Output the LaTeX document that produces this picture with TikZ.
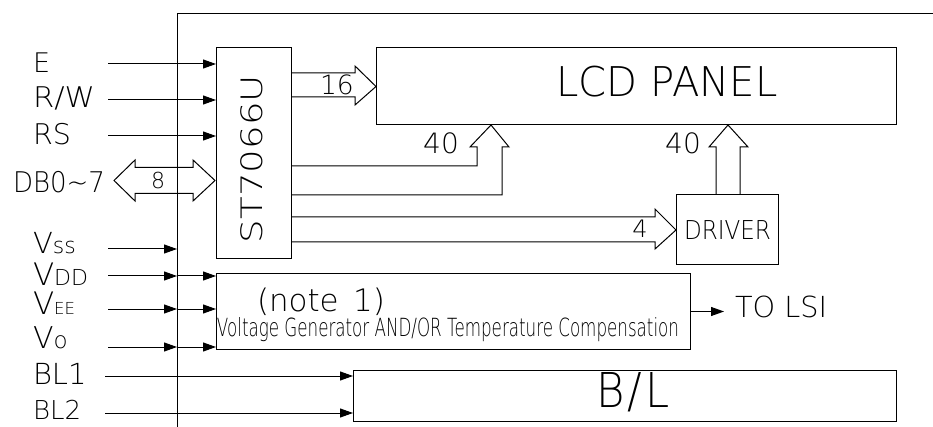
\documentclass[tikz,border=0pt]{standalone}
\usepackage{fontspec}
\usepackage{graphicx}
\usetikzlibrary{arrows.meta,calc}
\newfontfamily\cad{DejaVuSans-ExtraLight}[Extension=.ttf]
\newcommand\fsz[1]{\fontsize{#1}{#1}\selectfont}
\tikzset{
  box/.style={draw, inner sep=0pt, outer sep=0pt},
  sig/.style={-{Triangle[length=13pt,width=9pt]}},
  bus/.style={line join=miter},
  lbl/.style={inner sep=0pt, outer sep=0pt, font=\cad},
}
\begin{document}
\begin{tikzpicture}[x=1pt,y=-1pt,line width=1pt]
\useasboundingbox (0,0) rectangle (933,427);
\fill[white] (0,0) rectangle (933,427);
% frame
\coordinate (fb) at (177,430);
\coordinate (ft) at (177,14);
\coordinate (fr) at (935,14);
\draw (fb) -- (ft) -- (fr);
% boxes
\node[box, minimum width=75pt, minimum height=211pt] (st) at (253.5,153.5) {};
\node[box, minimum width=520pt, minimum height=77pt] (lcd) at (636,86.5) {};
\node[box, minimum width=102pt, minimum height=70pt] (drv) at (727,230) {};
\node[box, minimum width=474pt, minimum height=75pt] (volt) at (453,311.5) {};
\node[box, minimum width=543pt, minimum height=51pt] (bl) at (624.5,395.5) {};
% box texts
\node[lbl, anchor=base, rotate=90] (tST) at (262,159) {\resizebox{168pt}{\height}{\fsz{29.5}ST7066U}};
\node[lbl, anchor=base] (tLCD) at (667,97) {\resizebox{221pt}{\height}{\fsz{41}LCD PANEL}};
\node[lbl, anchor=base] (tDRV) at (727.5,240) {\resizebox{87pt}{\height}{\fsz{26}DRIVER}};
\node[lbl, anchor=base] (tNote) at (321,311) {\resizebox{128pt}{\height}{\fsz{31}(note\hspace{0.15em} 1)}};
\node[lbl, anchor=base] (tVolt) at (448,336) {\resizebox{462pt}{\height}{\fsz{25}Voltage Generator AND/OR Temperature Compensation}};
\node[lbl, anchor=base] (tBL) at (633,407) {\resizebox{74pt}{\height}{\fsz{48}B\hspace{0.08em}/\hspace{0.08em}L}};
% input labels
\node[lbl, anchor=base west] (lE) at (33,73) {\fsz{27}E};
\node[lbl, anchor=base west] (lRW) at (33,108) {\resizebox{62pt}{\height}{\fsz{28.5}R/W}};
\node[lbl, anchor=base west] (lRS) at (33,145) {\fsz{28.5}RS};
\node[lbl, anchor=base west] (lDB) at (13,193) {\resizebox{92pt}{\height}{\fsz{28.5}DB0\char"7E 7}};
\node[lbl, anchor=base west] (lVss) at (33,254) {\fsz{29}V\fsz{22}ss};
\node[lbl, anchor=base west] (lVdd) at (33,286) {\fsz{31}V\fsz{22}DD};
\node[lbl, anchor=base west] (lVee) at (33,314) {\fsz{31}V\fsz{16.5}EE};
\node[lbl, anchor=base west] (lVo) at (33,348) {\fsz{30}V\fsz{23}o};
\node[lbl, anchor=base west] (lBL1) at (33,384) {\fsz{29}BL1};
\node[lbl, anchor=base west] (lBL2) at (33,419) {\fsz{26}BL2};
% input signals
\coordinate (inE) at (108,64);
\coordinate (inRW) at (108,100);
\coordinate (inRS) at (108,136);
\draw[sig] (inE) -- (inE -| st.west);
\draw[sig] (inRW) -- (inRW -| st.west);
\draw[sig] (inRS) -- (inRS -| st.west);
\coordinate (inVss) at (108,249);
\coordinate (inVdd) at (108,276);
\coordinate (inVee) at (108,309);
\coordinate (inVo) at (108,347);
\draw[sig] (inVss) -- (inVss -| ft);
\foreach \c in {inVdd,inVee,inVo}{
  \draw[sig] (\c) -- (\c -| ft);
  \draw[sig] (\c -| ft) -- (\c -| volt.west);
}
\coordinate (inBL1) at (105,376);
\coordinate (inBL2) at (105,413);
\draw[sig] (inBL1) -- (inBL1 -| bl.west);
\draw[sig] (inBL2) -- (inBL2 -| bl.west);
% data bus (double arrow)
\coordinate (dbR) at ($(st.north west)+(-1,132.5)$);
\draw[bus] (dbR) -- ++(-22,-20.5) -- ++(0,7.5) -- ++(-58,0) -- ++(0,-7.5)
  -- ++(-21,20.5) -- ++(21,20.5) -- ++(0,-7.5) -- ++(58,0) -- ++(0,7.5) -- cycle;
\node[lbl, anchor=base] (l8) at (158,189) {\fsz{22}8};
% 16 bus to LCD
\draw[bus] ($(st.north east)+(0,25)$) -- ++(64,0) -- ++(0,-7) -- (lcd.west)
  -- ++(-21,18.5) -- ++(0,-8) -- ++(-64,0);
\node[lbl, anchor=base] (l16) at (337,95) {\fsz{26.5}16};
% 40 bus from ST to LCD
\draw[bus] ($(st.north east)+(0,118)$) -- ++(186,0) -- ++(0,-19) -- ++(-7,0)
  -- ($(lcd.south west)+(115,0)$) -- ++(18,22) -- ++(-7,0) -- ++(0,48)
  -- ($(st.north east)+(0,147)$);
\node[lbl, anchor=base] (l40a) at (441,154) {\fsz{28}40};
% 4 bus to DRIVER
\draw[bus] ($(st.north east)+(0,169)$) -- ++(364,0) -- ++(0,-8) -- (drv.west)
  -- ++(-21,19) -- ++(0,-7) -- ($(st.north east)+(0,194)$);
\node[lbl, anchor=base] (l4) at (640,238) {\fsz{24}4};
% 40 bus from DRIVER to LCD
\draw[bus] ($(drv.north west)+(40,0)$) -- ++(0,-48) -- ++(-7,0)
  -- ($(lcd.south west)+(352,0)$) -- ++(20,22) -- ++(-8,0)
  -- ($(drv.north west)+(64,0)$);
\node[lbl, anchor=base] (l40b) at (683,154) {\fsz{28}40};
% TO LSI
\draw[sig] (volt.east) -- ++(34,0) coordinate (lsi);
\node[lbl, anchor=base west] (tLSI) at (735,317) {\resizebox{92pt}{\height}{\fsz{29}TO LSI}};
\end{tikzpicture}
\end{document}
